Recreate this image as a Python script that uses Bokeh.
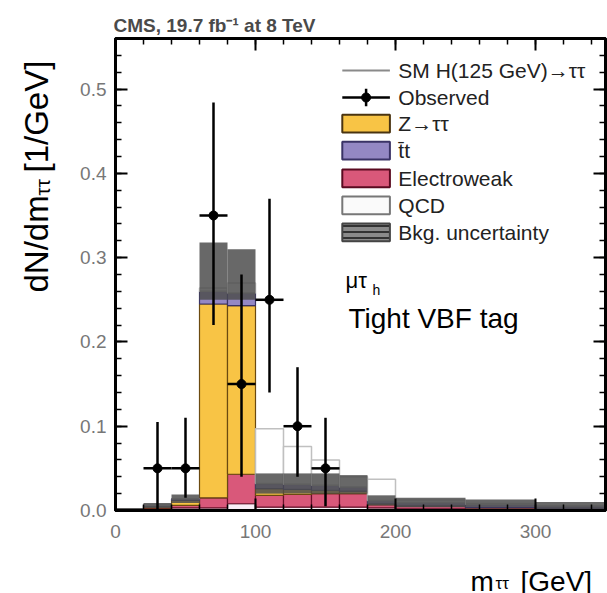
import math
import numpy as np
from bokeh.plotting import figure
from bokeh.models import Label, SingleIntervalTicker, LinearAxis, PrintfTickFormatter, Range1d
from bokeh.core.properties import value
from bokeh.layouts import row, column
from bokeh.embed import file_html
from bokeh.resources import INLINE

# ---------------- data ----------------
edges = [0, 20, 40, 60, 80, 100, 120, 140, 160, 180, 200, 250, 300, 350]
qcd = [0.0005, 0.002, 0.003, 0.003, 0.008, 0.004, 0.004, 0.004, 0.004, 0.003, 0.002, 0.001, 0.001]
ewk = [0.0003, 0.001, 0.003, 0.012, 0.035, 0.014, 0.015, 0.016, 0.016, 0.004, 0.003, 0.002, 0.0015]
ztt = [0.0005, 0.002, 0.006, 0.230, 0.200, 0.008, 0.006, 0.004, 0.003, 0.001, 0.0005, 0.0003, 0.0002]
ttb = [0.0002, 0.001, 0.002, 0.015, 0.015, 0.006, 0.006, 0.006, 0.005, 0.004, 0.004, 0.004, 0.003]
sig = [0.0, 0.0, 0.0, 0.004, 0.012, 0.065, 0.045, 0.030, 0.012, 0.025, 0.003, 0.001, 0.0]
band_lo = [0.0, 0.003, 0.009, 0.250, 0.250, 0.020, 0.020, 0.020, 0.020, 0.006, 0.004, 0.004, 0.002]
band_hi = [0.003, 0.009, 0.019, 0.318, 0.310, 0.044, 0.044, 0.044, 0.042, 0.018, 0.015, 0.013, 0.010]

obs_x = [30, 50, 70, 90, 110, 130, 150]
obs_y = [0.05, 0.05, 0.35, 0.15, 0.25, 0.10, 0.05]
obs_lo = [0.0, 0.015, 0.22, 0.04, 0.14, 0.04, 0.005]
obs_hi = [0.105, 0.11, 0.484, 0.28, 0.37, 0.17, 0.11]
obs_halfwidth = [10, 10, 10, 10, 10, 10, 10]

x_ticks_major = 100
y_ticks_major = 0.1

legend_labels = ["SM H(125 GeV)\u2192\u03c4\u03c4", "Observed", "Z\u2192\u03c4\u03c4", "t\u0304t",
                 "Electroweak", "QCD", "Bkg. uncertainty"]

FONT = "Liberation Sans"

# ---------------- main figure ----------------
p = figure(width=547, height=555, x_range=Range1d(0, 350), y_range=Range1d(0, 0.56),
           output_backend="svg", toolbar_location=None,
           min_border_left=55, min_border_right=2, min_border_top=38, min_border_bottom=45)
p.xgrid.visible = False
p.ygrid.visible = False
p.background_fill_color = "white"
p.border_fill_color = "white"
p.outline_line_color = "black"
p.outline_line_width = 3
p.title.text = "CMS, 19.7 fb\u207b\u00b9 at 8 TeV"
p.title.text_font = FONT
p.title.text_font_size = "19px"
p.title.text_font_style = "bold"
p.title.text_color = "#4a4a4a"
p.title.align = "left"
p.title.offset = -2
p.title.standoff = 5


def style_axis(ax, labels=True):
    ax.axis_line_width = 3
    ax.axis_line_color = "black"
    ax.major_tick_in = 12
    ax.major_tick_out = 0
    ax.minor_tick_in = 6
    ax.minor_tick_out = 0
    ax.major_tick_line_width = 2
    ax.minor_tick_line_width = 1.5
    ax.major_tick_line_color = "black"
    ax.minor_tick_line_color = "black"
    if labels:
        ax.major_label_text_font = FONT
        ax.major_label_text_font_size = "19px"
        ax.major_label_text_color = "#777777"
    else:
        ax.major_label_text_font_size = "0px"
        ax.major_label_text_color = None
        ax.major_label_standoff = 0


p.xaxis.ticker = SingleIntervalTicker(interval=x_ticks_major, num_minor_ticks=5)
p.yaxis.ticker = SingleIntervalTicker(interval=y_ticks_major, num_minor_ticks=5)
p.yaxis.formatter = PrintfTickFormatter(format="%.1f")
for ax in p.xaxis:
    style_axis(ax)
    ax.major_label_standoff = 14
for ax in p.yaxis:
    style_axis(ax)
    ax.major_label_standoff = 9

ax_r = LinearAxis(ticker=SingleIntervalTicker(interval=y_ticks_major, num_minor_ticks=5))
style_axis(ax_r, labels=False)
p.add_layout(ax_r, "right")
ax_t = LinearAxis(ticker=SingleIntervalTicker(interval=x_ticks_major, num_minor_ticks=5))
style_axis(ax_t, labels=False)
p.add_layout(ax_t, "above")

# ---------------- stacked histograms ----------------
left = np.array(edges[:-1], dtype=float)
right = np.array(edges[1:], dtype=float)
comps = [
    (qcd, "#F8EEF6", "#888888"),
    (ewk, "#D9587A", "#6b0f2a"),
    (ztt, "#F8C445", "#6b4a10"),
    (ttb, "#9488C4", "#3a3366"),
]
base = np.zeros(len(left))
for vals, fc, lc in comps:
    v = np.array(vals)
    p.quad(left=left, right=right, bottom=base, top=base + v,
           fill_color=fc, line_color=lc, line_width=1.2)
    base = base + v
total = base

p.quad(left=left, right=right, bottom=total, top=total + np.array(sig),
       fill_color="white", line_color="#c0c0c0", line_width=1.5)
p.quad(left=left, right=right, bottom=band_lo, top=band_hi,
       fill_color="#4d4d4d", fill_alpha=0.85, line_color=None)

ox = np.array(obs_x, dtype=float)
ohw = np.array(obs_halfwidth, dtype=float)
p.segment(x0=ox, y0=obs_lo, x1=ox, y1=obs_hi, line_color="black", line_width=2.5)
p.segment(x0=ox - ohw, y0=obs_y, x1=ox + ohw, y1=obs_y, line_color="black", line_width=2.5)
p.scatter(ox, obs_y, size=9, color="black")

# ---------------- legend (manual) ----------------
leg_x0, leg_x1, leg_tx = 162, 196, 202
leg_rows = [0.522, 0.490, 0.459, 0.427, 0.394, 0.362, 0.330]
hh = 0.0105
xm = (leg_x0 + leg_x1) / 2
p.segment(x0=[leg_x0], y0=[leg_rows[0]], x1=[leg_x1], y1=[leg_rows[0]], line_color="#8a8a8a", line_width=2)
p.segment(x0=[leg_x0], y0=[leg_rows[1]], x1=[leg_x1], y1=[leg_rows[1]], line_color="black", line_width=2.5)
p.segment(x0=[xm], y0=[leg_rows[1] - hh], x1=[xm], y1=[leg_rows[1] + hh], line_color="black", line_width=2.5)
p.scatter([xm], [leg_rows[1]], size=9, color="black")
leg_boxes = [
    (2, "#F8C445", "#4a3410", None),
    (3, "#9488C4", "#3a3366", None),
    (4, "#D9587A", "#5a0a20", None),
    (5, "#FAFAFA", "#777777", None),
    (6, "#8a8a8a", "#444444", "horizontal_line"),
]
for r, fc, lc, hatch in leg_boxes:
    kw = dict(left=[leg_x0], right=[leg_x1], bottom=[leg_rows[r] - hh], top=[leg_rows[r] + hh],
              fill_color=fc, line_color=lc, line_width=2)
    if hatch:
        kw.update(hatch_pattern=hatch, hatch_color="#333333", hatch_scale=6, hatch_weight=2)
    p.quad(**kw)
for r, txt in enumerate(legend_labels):
    p.add_layout(Label(x=leg_tx, y=leg_rows[r], text=txt, text_font=FONT,
                       text_font_size="21px", text_color="#222222", text_baseline="middle"))


def lab(fig, x, y, t, size, **kw):
    d = dict(text_font=FONT, text_font_size=size, text_color="black")
    d.update(kw)
    fig.add_layout(Label(x=x, y=y, text=t, **d))


lab(p, 164.3, 0.2586, "\u03bc\u03c4", "22px")
lab(p, 183.5, 0.2527, "h", "14px")
lab(p, 166.4, 0.21, "Tight VBF tag", "28px")

# ---------------- y-axis title strip (its frame is aligned with the main frame: 38..510 px) ----------------
fy = figure(width=60, height=555, x_range=Range1d(0, 60), y_range=Range1d(0, 472),
            output_backend="svg", toolbar_location=None, x_axis_type=None, y_axis_type=None,
            min_border=0, outline_line_color=None, title_location=None)
fy.xgrid.visible = False
fy.ygrid.visible = False
txt_kw = dict(angle=math.pi / 2, text_font=value(FONT), text_align="left",
              text_baseline="alphabetic", text_color="black")
fy.text(x=[36], y=[510 - 292], text=["dN/dm"], text_font_size=value("33px"), **txt_kw)
fy.text(x=[42], y=[510 - 195], text=["\u03c4\u03c4"], text_font_size=value("21px"), **txt_kw)
fy.text(x=[36], y=[510 - 172], text=["[1/GeV]"], text_font_size=value("33px"), **txt_kw)

# ---------------- x-axis title strip (measured: starts ~565 px) ----------------
fx = figure(width=607, height=38, x_range=Range1d(0, 607), y_range=Range1d(0, 38),
            output_backend="svg", toolbar_location=None, x_axis_type=None, y_axis_type=None,
            min_border=0, outline_line_color=None, title_location=None)
fx.xgrid.visible = False
fx.ygrid.visible = False
xk = dict(text_font=value(FONT), text_align="left", text_baseline="alphabetic", text_color="black")
fx.text(x=[470], y=[12], text=["m"], text_font_size=value("28px"), **xk)
fx.text(x=[495], y=[10], text=["\u03c4\u03c4"], text_font_size=value("17px"), **xk)
fx.text(x=[520], y=[12], text=["[GeV]"], text_font_size=value("28px"), **xk)

layout = column(row(fy, p, spacing=0), fx, spacing=0)
open("out.html", "w").write(file_html(layout, INLINE))
